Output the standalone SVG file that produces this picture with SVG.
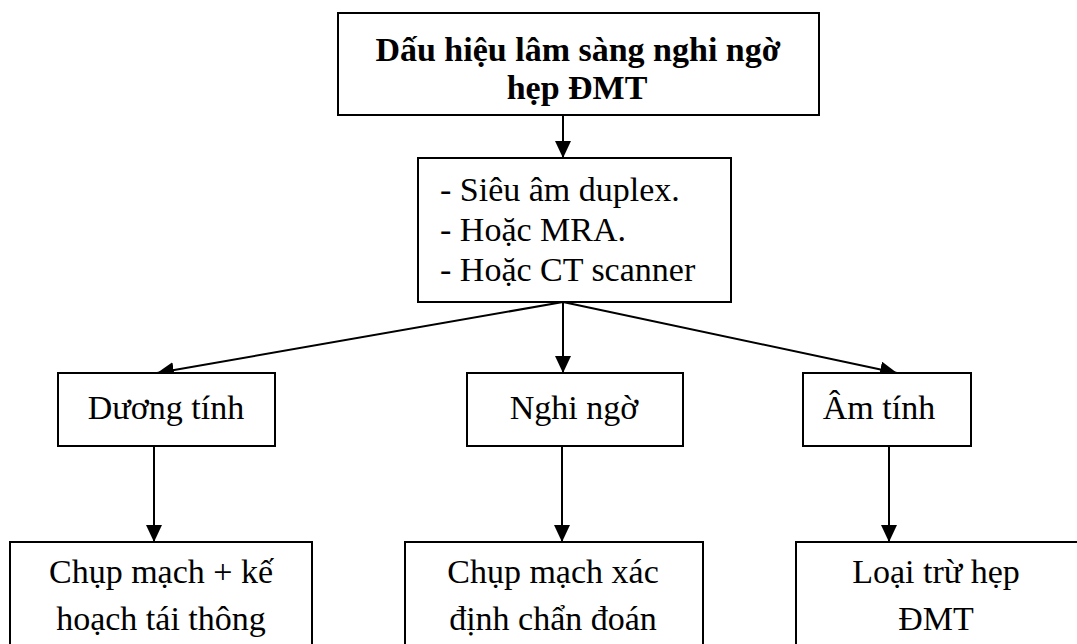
<svg xmlns="http://www.w3.org/2000/svg" width="1077" height="644" viewBox="0 0 1077 644">
<style>
.box{fill:#fff;stroke:#000;stroke-width:2}
.t{font-family:"Liberation Serif","Times New Roman",serif;font-size:34px;fill:#000}
.c{text-anchor:middle}
.b{font-weight:bold}
.ln{stroke:#000;stroke-width:2;fill:none;marker-end:url(#ah)}
</style>
<defs>
<marker id="ah" viewBox="0 0 17 16" refX="17" refY="8" markerWidth="17" markerHeight="16" markerUnits="userSpaceOnUse" orient="auto">
<path d="M0,0 L17,8 L0,16 Z" fill="#000"/>
</marker>
</defs>
<rect width="1077" height="644" fill="#fff"/>
<g id="connectors">
<line class="ln" x1="563" y1="115" x2="563" y2="158"/>
<line class="ln" x1="563" y1="302" x2="157" y2="373"/>
<line class="ln" x1="563" y1="302" x2="563" y2="373"/>
<line class="ln" x1="563" y1="302" x2="897" y2="373"/>
<line class="ln" x1="154" y1="446" x2="154" y2="542"/>
<line class="ln" x1="562" y1="446" x2="562" y2="542"/>
<line class="ln" x1="889" y1="446" x2="889" y2="542"/>
</g>
<g id="n-top">
<rect class="box" x="338" y="13" width="481" height="102"/>
<text class="t c b" x="578" y="61">Dấu hiệu lâm sàng nghi ngờ</text>
<text class="t c b" x="577" y="99">hẹp ĐMT</text>
</g>
<g id="n-test">
<rect class="box" x="418" y="158" width="313" height="144"/>
<text class="t" x="440" y="201">- Siêu âm duplex.</text>
<text class="t" x="440" y="241">- Hoặc MRA.</text>
<text class="t" x="440" y="281">- Hoặc CT scanner</text>
</g>
<g id="n-pos">
<rect class="box" x="58" y="373" width="217" height="73"/>
<text class="t c" x="166" y="419">Dương tính</text>
</g>
<g id="n-susp">
<rect class="box" x="467" y="373" width="216" height="73"/>
<text class="t c" x="574" y="419">Nghi ngờ</text>
</g>
<g id="n-neg">
<rect class="box" x="803" y="373" width="168" height="73"/>
<text class="t c" x="879" y="419">Âm tính</text>
</g>
<g id="n-pos-out">
<rect class="box" x="10" y="542" width="302" height="120"/>
<text class="t c" x="161" y="583">Chụp mạch + kế</text>
<text class="t c" x="161" y="630">hoạch tái thông</text>
</g>
<g id="n-susp-out">
<rect class="box" x="405" y="542" width="298" height="120"/>
<text class="t c" x="553" y="583">Chụp mạch xác</text>
<text class="t c" x="553" y="630">định chẩn đoán</text>
</g>
<g id="n-neg-out">
<rect class="box" x="796" y="542" width="300" height="120"/>
<text class="t c" x="936" y="583">Loại trừ hẹp</text>
<text class="t c" x="936" y="630">ĐMT</text>
</g>
</svg>
